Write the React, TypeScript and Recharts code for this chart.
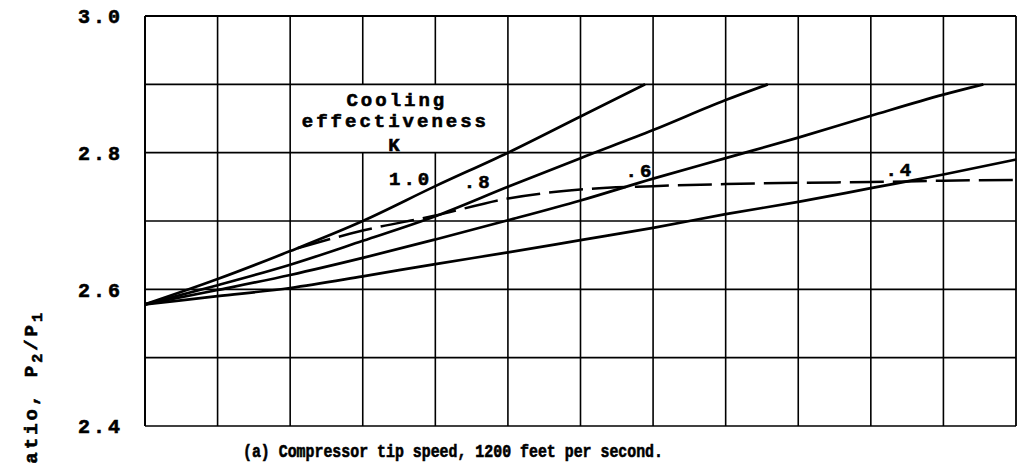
import React from 'react';
import { LineChart, Line, XAxis, YAxis, CartesianGrid, ReferenceLine, ReferenceDot } from 'recharts';

// tip-speed grid (arbitrary units, 12 divisions, no labels on this panel)
const speedTicks = [0, 1, 2, 3, 4, 5, 6, 7, 8, 9, 10, 11, 12];
const ratioTicks = [2.4, 2.5, 2.6, 2.7, 2.8, 2.9, 3.0];
const labeledRatios = [2.4, 2.6, 2.8, 3.0];
// grid columns that are broken behind the "Cooling effectiveness K" note
const brokenColumns = [3, 4];

// cooling effectiveness K curves
const k10Speed = [0, 1, 2, 3, 4, 5, 6, 6.89];
const k10Ratio = [2.578, 2.615, 2.656, 2.7, 2.751, 2.8, 2.853, 2.9];

const k08Speed = [0, 1, 2, 3, 4, 5, 6, 7, 8, 8.58];
const k08Ratio = [2.578, 2.606, 2.636, 2.671, 2.707, 2.75, 2.792, 2.833, 2.877, 2.9];

const k06Speed = [0, 1, 2, 3, 4, 5, 6, 7, 8, 9, 10, 11, 11.55];
const k06Ratio = [2.578, 2.599, 2.621, 2.646, 2.673, 2.701, 2.73, 2.762, 2.792, 2.822, 2.854, 2.885, 2.9];

const k04Speed = [0, 1, 2, 3, 4, 5, 6, 7, 8, 9, 10, 11, 12];
const k04Ratio = [2.578, 2.59, 2.602, 2.619, 2.637, 2.654, 2.672, 2.69, 2.71, 2.728, 2.748, 2.768, 2.79];

// dashed locus
const locusSpeed = [2.1, 3, 4, 5, 6, 7, 8, 9, 10, 11, 12];
const locusRatio = [2.66, 2.686, 2.708, 2.733, 2.746, 2.751, 2.754, 2.756, 2.757, 2.759, 2.76];

const curveNames = ['1.0', '.8', '.6', '.4'];
const curveNameSpeed = [3.66, 4.59, 6.82, 10.4];
const curveNameRatio = [2.762, 2.759, 2.774, 2.776];

const FONT = '"Liberation Mono", "Courier New", monospace';
const ink = { fontFamily: FONT, fontWeight: 'bold' as const, fill: '#000', stroke: '#000', strokeWidth: 0.6 };

const toPoints = (xs: number[], ys: number[]) => xs.map((x, i) => ({ speed: x, ratio: ys[i] }));

const curves = [
  toPoints(k10Speed, k10Ratio),
  toPoints(k08Speed, k08Ratio),
  toPoints(k06Speed, k06Ratio),
  toPoints(k04Speed, k04Ratio),
];
const locus = toPoints(locusSpeed, locusRatio);

const RatioTick = ({ x, y, payload }: any) => {
  const v = Math.round(payload.value * 10) / 10;
  if (!labeledRatios.includes(v)) return null;
  return (
    <text x={x} y={y} dy="0.36em" textAnchor="end" fontSize={20} letterSpacing={3} {...ink}>
      {v.toFixed(1)}
    </text>
  );
};

const note = (text: string) => (p: any) => (
  <text x={p.cx} y={p.cy} dy="0.36em" textAnchor="middle" fontSize={19} letterSpacing={3} {...ink}>
    {text}
  </text>
);

export default function App() {
  return (
    <div style={{ position: 'absolute', left: 0, top: 0, width: 1018, height: 465, background: '#fff' }}>
      <LineChart width={1018} height={465} margin={{ top: 16, right: 2, left: 0, bottom: 39 }}>
        <CartesianGrid stroke="#000" strokeWidth={1.6} vertical={false} />
        <XAxis type="number" dataKey="speed" domain={[0, 12]} ticks={speedTicks} tick={false} tickLine={false} height={0} axisLine={{ stroke: '#000', strokeWidth: 1.8 }} />
        <YAxis
          type="number"
          domain={[2.4, 3.0]}
          ticks={ratioTicks}
          width={145}
          tickSize={0}
          tickMargin={22}
          tickLine={false}
          axisLine={{ stroke: '#000', strokeWidth: 1.8 }}
          tick={<RatioTick />}
        />
        {speedTicks.filter((s) => !brokenColumns.includes(s)).map((s) => (
          <ReferenceLine key={'v' + s} x={s} stroke="#000" strokeWidth={s === 0 || s === 12 ? 1.8 : 1.6} />
        ))}
        {brokenColumns.map((s) => (
          <ReferenceLine key={'lo' + s} segment={[{ x: s, y: 2.4 }, { x: s, y: 2.8 }]} stroke="#000" strokeWidth={1.6} />
        ))}
        {brokenColumns.map((s) => (
          <ReferenceLine key={'hi' + s} segment={[{ x: s, y: 2.9 }, { x: s, y: 3.0 }]} stroke="#000" strokeWidth={1.6} />
        ))}
        <ReferenceLine y={3.0} stroke="#000" strokeWidth={1.8} />
        {curves.map((c, i) => (
          <Line key={curveNames[i]} data={c} dataKey="ratio" type="monotone" stroke="#000" strokeWidth={2.7} dot={false} isAnimationActive={false} />
        ))}
        <Line data={locus} dataKey="ratio" type="monotone" stroke="#000" strokeWidth={2.5} strokeDasharray="34 9" dot={false} isAnimationActive={false} />
        <ReferenceDot x={3.47} y={2.879} r={0} shape={note('Cooling')} />
        <ReferenceDot x={3.45} y={2.847} r={0} shape={note('effectiveness')} />
        <ReferenceDot x={3.45} y={2.813} r={0} shape={note('K')} />
        {curveNames.map((n, i) => (
          <ReferenceDot key={'lbl' + n} x={curveNameSpeed[i]} y={curveNameRatio[i]} r={0} shape={note(n)} />
        ))}
      </LineChart>
      <svg width={1018} height={465} style={{ position: 'absolute', left: 0, top: 0, pointerEvents: 'none' }}>
        <text transform="translate(37,310) rotate(-90)" textAnchor="end" fontSize={19} letterSpacing={3} {...ink}>
          Pressure ratio, P<tspan dy={5} fontSize={15}>2</tspan><tspan dy={-5}>/P</tspan><tspan dy={5} fontSize={15}>1</tspan>
        </text>
        <text x={243} y={457} textLength={420} lengthAdjust="spacingAndGlyphs" fontSize={18} {...ink}>
          (a) Compressor tip speed, 1200 feet per second.
        </text>
      </svg>
    </div>
  );
}
